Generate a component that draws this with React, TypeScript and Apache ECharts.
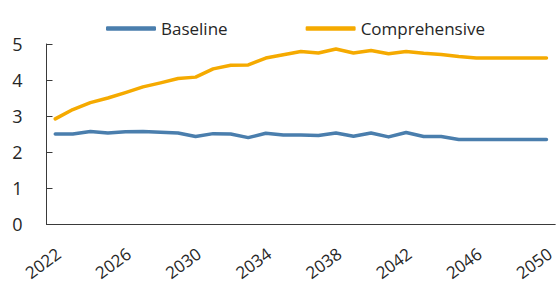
import React, { useEffect, useRef } from "react";
import * as echarts from "echarts";

const years = [
  "2022", "2023", "2024", "2025", "2026", "2027", "2028", "2029", "2030", "2031",
  "2032", "2033", "2034", "2035", "2036", "2037", "2038", "2039", "2040", "2041",
  "2042", "2043", "2044", "2045", "2046", "2047", "2048", "2049", "2050",
];

const baseline = [
  2.50, 2.50, 2.57, 2.53, 2.56, 2.57, 2.55, 2.53, 2.43, 2.51,
  2.50, 2.40, 2.52, 2.47, 2.47, 2.46, 2.53, 2.44, 2.53, 2.42,
  2.54, 2.43, 2.43, 2.35, 2.35, 2.35, 2.35, 2.35, 2.35,
];

const comprehensive = [
  2.92, 3.18, 3.37, 3.50, 3.65, 3.81, 3.92, 4.04, 4.08, 4.31,
  4.41, 4.42, 4.61, 4.70, 4.79, 4.75, 4.86, 4.75, 4.82, 4.73,
  4.79, 4.74, 4.71, 4.65, 4.61, 4.61, 4.61, 4.61, 4.61,
];

const seriesNames = ["Baseline", "Comprehensive"];
const yTicks = { min: 0, max: 5, interval: 1 };

const FONT = "'Open Sans', 'Noto Sans', sans-serif";
const TEXT = "#262626";
const AXIS = "#3a3a3a";

export default function App() {
  const ref = useRef<HTMLDivElement>(null);

  useEffect(() => {
    if (!ref.current) return;
    const chart = echarts.init(ref.current, undefined, { renderer: "svg" });
    chart.setOption({
      animation: false,
      backgroundColor: "#ffffff",
      textStyle: { fontFamily: FONT },
      legend: {
        left: 101,
        top: 15,
        itemWidth: 50,
        itemHeight: 4.5,
        itemGap: 78,
        icon: "roundRect",
        textStyle: { fontSize: 17, color: TEXT, fontFamily: FONT },
        data: seriesNames,
      },
      grid: { left: 46.5, right: -4.5, top: 44, bottom: 61 },
      xAxis: {
        type: "category",
        data: years,
        boundaryGap: true,
        axisLine: { lineStyle: { color: AXIS, width: 1 } },
        axisTick: { inside: true, length: 5, interval: 3, lineStyle: { color: AXIS } },
        axisLabel: {
          interval: 3,
          rotate: 36,
          margin: 30,
          fontSize: 17,
          color: TEXT,
          fontFamily: FONT,
          padding: [0, -4, 0, 0],
        },
        splitLine: { show: false },
      },
      yAxis: {
        type: "value",
        min: yTicks.min,
        max: yTicks.max,
        interval: yTicks.interval,
        axisLine: { show: true, lineStyle: { color: AXIS, width: 1 } },
        axisTick: { show: true, inside: true, length: 6, lineStyle: { color: AXIS } },
        axisLabel: { margin: 24, fontSize: 18, color: TEXT, fontFamily: FONT },
        splitLine: { show: false },
      },
      series: [
        {
          name: seriesNames[0],
          type: "line",
          data: baseline,
          showSymbol: false,
          symbol: "none",
          color: "#4A7EAD",
          lineStyle: { width: 3.5, color: "#4A7EAD", cap: "round", join: "round" },
        },
        {
          name: seriesNames[1],
          type: "line",
          data: comprehensive,
          showSymbol: false,
          symbol: "none",
          color: "#F5AA00",
          lineStyle: { width: 3.5, color: "#F5AA00", cap: "round", join: "round" },
        },
      ],
    });
    return () => chart.dispose();
  }, []);

  return (
    <div
      ref={ref}
      style={{ position: "fixed", left: 0, top: 0, width: 557, height: 285, overflow: "hidden" }}
    />
  );
}
